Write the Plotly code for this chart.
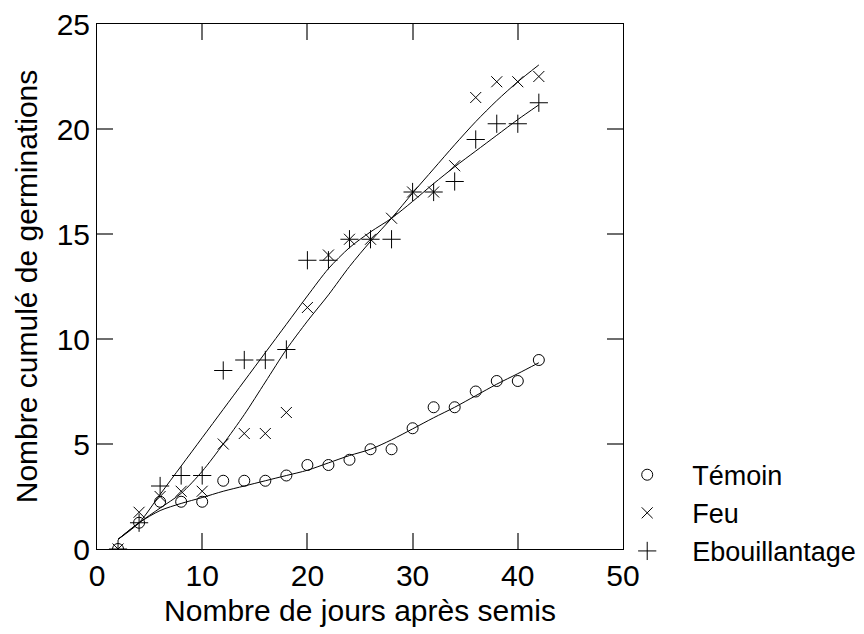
import plotly.graph_objects as go

# Days after sowing
jours = [2, 4, 6, 8, 10, 12, 14, 16, 18, 20, 22, 24, 26, 28, 30, 32, 34, 36, 38, 40, 42]

# Observed cumulative germinations
temoin = [0, 1.25, 2.25, 2.25, 2.25, 3.25, 3.25, 3.25, 3.5, 4, 4, 4.25, 4.75, 4.75,
          5.75, 6.75, 6.75, 7.5, 8, 8, 9]
feu = [0, 1.75, 2.5, 2.75, 2.75, 5, 5.5, 5.5, 6.5, 11.5, 14, 14.75, 14.75, 15.75,
       17, 17, 18.25, 21.5, 22.25, 22.25, 22.5]
ebouillantage = [0, 1.25, 3, 3.5, 3.5, 8.5, 9, 9, 9.5, 13.75, 13.75, 14.75, 14.75, 14.75,
                 17, 17, 17.5, 19.5, 20.25, 20.25, 21.25]

# Smoothed trends
temoin_lisse = [0.46, 1.25, 1.83, 2.17, 2.45, 2.75, 3.0, 3.25, 3.5, 3.75, 4.1, 4.45, 4.75,
                5.2, 5.72, 6.25, 6.75, 7.3, 7.85, 8.35, 8.87]
feu_lisse = [0.46, 1.25, 1.95, 2.65, 3.7, 5.0, 6.4, 7.95, 9.5, 10.85, 12.1, 13.45, 14.65,
             15.75, 16.95, 18.1, 19.25, 20.35, 21.35, 22.25, 23.05]
ebouillantage_lisse = [0.46, 1.25, 2.6, 3.95, 5.3, 6.65, 8.0, 9.35, 10.7, 12.05, 13.35, 14.35,
                       15.1, 15.75, 16.55, 17.4, 18.2, 18.95, 19.7, 20.45, 21.15]

x_ticks = [0, 10, 20, 30, 40, 50]
y_ticks = [0, 5, 10, 15, 20, 25]

FONT = "Liberation Sans, Arial, Helvetica, sans-serif"

fig = go.Figure()

for lisse in (temoin_lisse, feu_lisse, ebouillantage_lisse):
    fig.add_trace(go.Scatter(
        x=jours, y=lisse, mode="lines", showlegend=False, hoverinfo="skip",
        line=dict(color="black", width=1, shape="spline", smoothing=0.8),
    ))

series = [
    ("Témoin", temoin, "circle-open", 11),
    ("Feu", feu, "x-thin-open", 11),
    ("Ebouillantage", ebouillantage, "cross-thin-open", 13),
]
for nom, vals, sym, taille in series:
    fig.add_trace(go.Scatter(
        x=jours, y=vals, mode="markers", name=nom,
        marker=dict(symbol=sym, size=taille, color="black",
                    line=dict(color="black", width=1)),
    ))

axis_common = dict(
    showgrid=False, zeroline=False, automargin=False,
    showline=True, linecolor="black", linewidth=1, mirror="ticks",
    ticks="inside", ticklen=16, tickwidth=1.5, tickcolor="#6e6e6e",
    tickfont=dict(family=FONT, size=30, color="black"),
    title_font=dict(family=FONT, size=30, color="black"),
)

fig.update_xaxes(range=[0, 50], tickvals=x_ticks,
                 title_text="Nombre de jours après semis", title_standoff=8,
                 **axis_common)
fig.update_yaxes(range=[0, 25], tickvals=y_ticks,
                 title_text="Nombre cumulé de germinations", title_standoff=10,
                 **axis_common)

fig.update_layout(
    width=864, height=634,
    margin=dict(l=97, r=241, t=24, b=85, autoexpand=False),
    paper_bgcolor="white", plot_bgcolor="white",
    font=dict(family=FONT, size=27, color="black"),
    legend=dict(xref="container", yref="container",
                x=0.697, xanchor="left", y=0.092, yanchor="bottom",
                font=dict(family=FONT, size=27, color="black"),
                bgcolor="rgba(0,0,0,0)", itemwidth=80, tracegroupgap=0),
)

fig.write_html("out.html")
